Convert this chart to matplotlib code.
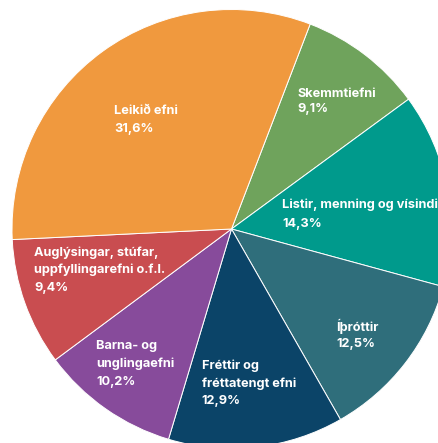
import matplotlib
matplotlib.use("Agg")
import matplotlib.pyplot as plt
import numpy as np

categories = ["Skemmtiefni", "Listir, menning og vísindi", "Íþróttir",
              "Fréttir og\nfréttatengt efni", "Barna- og\nunglingaefni",
              "Auglýsingar, stúfar,\nuppfyllingarefni o.f.l.", "Leikið efni"]
values = [9.1, 14.3, 12.5, 12.9, 10.2, 9.4, 31.6]
colors = ["#6FA35C", "#009A8C", "#2F6E7B", "#0B4468", "#874B9B", "#C94D50", "#F0993E"]

# label layout: left x, first baseline y (pixels from top-left), line spacing (px)
label_layout = [(297.3, 96.7, 15.5), (282.3, 208.3, 18.4), (336.0, 330.7, 16.0),
                (201.7, 369.0, 17.5), (96.0, 349.0, 18.0), (34.3, 256.0, 17.5),
                (114.5, 114.0, 17.7)]

W, H = 439, 443
fig = plt.figure(figsize=(W / 100, H / 100), dpi=100)
ax = fig.add_axes([0, 0, 1, 1])
cx, cy, R = 231.5, 229.0, 219.5
ax.pie(values, colors=colors, startangle=69.0, counterclock=False, radius=1.0,
       center=(0, 0), wedgeprops=dict(edgecolor="white", linewidth=0.7))
ax.set_xlim(-cx / R, (W - cx) / R)
ax.set_ylim(-(H - cy) / R, cy / R)
ax.set_aspect("auto")
ax.axis("off")

for cat, v, (px, pb, sp) in zip(categories, values, label_layout):
    pct = f"{v:.1f}%".replace(".", ",")
    lines = cat.split("\n") + [pct]
    for k, line in enumerate(lines):
        fig.text(px / W, 1 - (pb + k * sp) / H, line, ha="left", va="baseline",
                 color="white", fontsize=9.2, fontweight="bold", family="Inter")

fig.savefig("out.png", dpi=100)
